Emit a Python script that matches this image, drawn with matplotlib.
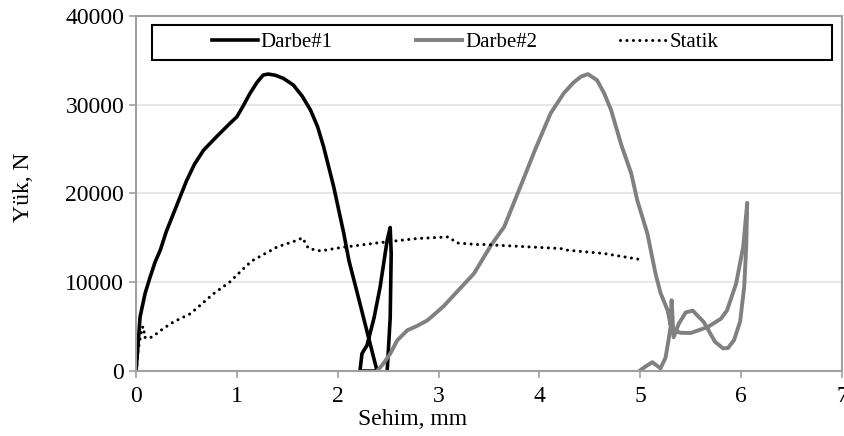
import matplotlib
matplotlib.use('Agg')
import matplotlib.pyplot as plt
from matplotlib.patches import Rectangle

# Values (Sehim in mm, Yük in N).

darbe1_x = [0.0, 0.023, 0.04, 0.09, 0.14, 0.19, 0.24, 0.30, 0.37, 0.50, 0.58, 0.67, 0.80, 0.93,
            1.00, 1.06, 1.13, 1.20, 1.26, 1.31, 1.38, 1.46, 1.56, 1.65, 1.73, 1.80,
            1.86, 1.96, 2.06, 2.11, 2.22, 2.30, 2.39, 2.22, 2.24, 2.29, 2.36, 2.42,
            2.49, 2.52, 2.53, 2.52, 2.49]
darbe1_y = [0, 3450, 6100, 8750, 10600, 12300, 13600, 15700, 17700, 21400, 23300, 24870, 26400, 27870,
            28620, 29800, 31260, 32500, 33320, 33430, 33300, 32950, 32190, 30900, 29375, 27500,
            25240, 20730, 15480, 12470, 7600, 4000, 0, 0, 1960, 2900, 6000, 9460,
            14730, 16160, 13230, 6000, 0]

darbe2_x = [2.39, 2.45, 2.52, 2.59, 2.69, 2.79, 2.89, 3.05, 3.18, 3.35, 3.52, 3.65,
            3.81, 3.96, 4.11, 4.24, 4.34, 4.41, 4.48, 4.57, 4.64, 4.71, 4.81, 4.91,
            4.97, 5.07, 5.15, 5.20, 5.27, 5.30, 5.34, 5.40, 5.50, 5.67, 5.80, 5.86,
            5.95, 6.02, 6.06, 6.05, 6.03, 5.99, 5.93, 5.87, 5.82, 5.74, 5.63, 5.52,
            5.45, 5.38, 5.33, 5.31, 5.30, 5.28, 5.25, 5.20, 5.12, 5.05, 4.99]
darbe2_y = [0, 800, 1950, 3460, 4590, 5100, 5710, 7300, 8900, 10970, 14160, 16230,
            20730, 25000, 29000, 31260, 32500, 33130, 33430, 32750, 31300, 29380, 25500, 22240,
            19200, 15480, 11000, 8800, 6840, 5200, 4500, 4300, 4280, 4960, 5900, 6840,
            9850, 14000, 18930, 14000, 9500, 5600, 3500, 2600, 2550, 3300, 5500, 6800,
            6600, 5300, 3800, 7970, 5000, 3500, 1500, 300, 1000, 500, 0]

statik_x = [0.0, 0.01, 0.02, 0.06, 0.09, 0.07, 0.10, 0.16, 0.27, 0.37, 0.54, 0.77,
            0.93, 1.10, 1.16, 1.40, 1.60, 1.65, 1.71, 1.83, 2.03, 2.39, 2.79, 3.10,
            3.18, 3.38, 3.45, 4.21, 4.28, 4.64, 4.98]
statik_y = [0, 850, 2300, 4960, 4800, 4000, 3680, 3830, 4780, 5520, 6460, 8720,
            10030, 11910, 12470, 13970, 14730, 15000, 13790, 13520, 13900, 14420, 14920, 15100,
            14420, 14240, 14240, 13790, 13600, 13230, 12590]

x_ticks = [0, 1, 2, 3, 4, 5, 6, 7]
y_ticks = [0, 10000, 20000, 30000, 40000]

plt.rcParams['font.family'] = ['Liberation Serif', 'DejaVu Serif']

fig = plt.figure(figsize=(8.45, 4.36), dpi=100)
ax = fig.add_axes([0.161, 0.149, 0.8355, 0.815])

ax.plot(darbe1_x, darbe1_y, color='black', lw=2.6, label='Darbe#1', solid_joinstyle='round')
ax.plot(darbe2_x, darbe2_y, color='#808080', lw=2.8, label='Darbe#2', solid_joinstyle='round')
ax.plot(statik_x, statik_y, color='black', lw=2.2, linestyle=(0, (0.01, 2.1)),
        dash_capstyle='round', label='Statik')

ax.set_xlim(0, 7)
ax.set_ylim(0, 40000)
ax.set_xticks(x_ticks)
ax.set_yticks(y_ticks)
ax.tick_params(labelsize=17, color='#a0a0a0', length=5, width=1.2, direction='out')
ax.tick_params(axis='x', pad=6)

ax.grid(axis='y', color='#e4e4e4', lw=1.2)
ax.set_axisbelow(True)
for s in ax.spines.values():
    s.set_color('#a0a0a0')
    s.set_linewidth(1.5)

ax.set_xlabel('Sehim, mm', fontsize=17)
ax.xaxis.set_label_coords(0.391, -0.108)
ax.set_ylabel('Yük, N', fontsize=17)
ax.yaxis.set_label_coords(-0.145, 0.518)

# legend frame drawn by hand, entries centred inside it
frame = Rectangle((0.0227, 0.875), 0.963, 0.0986, transform=ax.transAxes,
                  facecolor='white', edgecolor='black', lw=1.5, zorder=5)
ax.add_patch(frame)
leg = ax.legend(ncol=3, loc='center', bbox_to_anchor=(0.466, 0.9245),
                fontsize=15, frameon=False, borderaxespad=0, borderpad=0,
                handlelength=2.2, handletextpad=0.15, columnspacing=4.0)
leg.set_zorder(6)

fig.savefig('out.png', dpi=100)
